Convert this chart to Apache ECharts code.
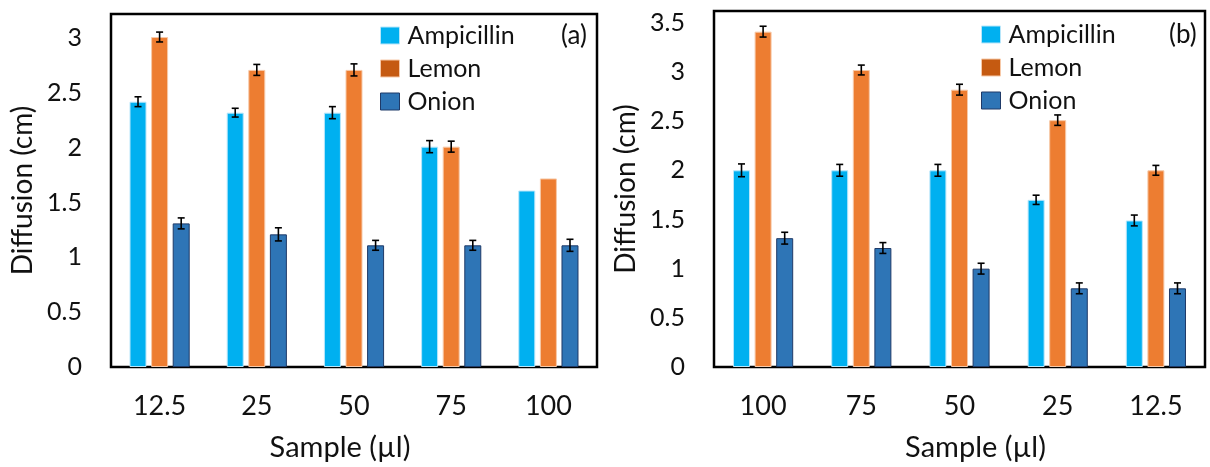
<!DOCTYPE html>
<html>
<head>
<meta charset="utf-8">
<script src="https://cdn.jsdelivr.net/npm/echarts@6/dist/echarts.min.js"></script>
<style>
  html, body { margin: 0; padding: 0; background: #fff; }
  #chart { width: 1210px; height: 467px; }
</style>
</head>
<body>
<div id="chart"></div>
<script>
// ---------- Data ----------
const seriesNames = ['Ampicillin', 'Lemon', 'Onion'];

// Panel (a)
const categoriesA = ['12.5', '25', '50', '75', '100'];
const ampicillinA = [2.42, 2.32, 2.32, 2.01, 1.61];
const lemonA      = [3.01, 2.71, 2.71, 2.01, 1.72];
const onionA      = [1.31, 1.21, 1.11, 1.11, 1.11];
const ampicillinErrA = [0.045, 0.04, 0.055, 0.055, null];
const lemonErrA      = [0.045, 0.05, 0.055, 0.05, null];
const onionErrA      = [0.05, 0.06, 0.045, 0.045, 0.055];

// Panel (b)
const categoriesB = ['100', '75', '50', '25', '12.5'];
const ampicillinB = [2.0, 2.0, 2.0, 1.70, 1.49];
const lemonB      = [3.41, 3.02, 2.82, 2.51, 2.0];
const onionB      = [1.31, 1.21, 1.0, 0.80, 0.80];
const ampicillinErrB = [0.065, 0.06, 0.06, 0.047, 0.055];
const lemonErrB      = [0.055, 0.05, 0.055, 0.053, 0.05];
const onionErrB      = [0.06, 0.055, 0.055, 0.055, 0.055];

// ---------- Styling ----------
const FONT = 'Lato';
const TXT = '#111';
const BAR_W = 17;
const BAR_GAP = 0.27;
const colors = ['#00B0F0', '#ED7D31', '#2E75B6'];
const borders = ['#B8E6FA', '#F7C9A8', '#1F3A68'];
const legendColors = ['#00B0F0', '#C55A11', '#2E75B6'];

function barSeries(name, k, data, axisIdx) {
  return {
    name: name,
    type: 'bar',
    xAxisIndex: axisIdx,
    yAxisIndex: axisIdx,
    data: data,
    barWidth: BAR_W,
    barGap: (BAR_GAP * 100) + '%',
    itemStyle: { color: colors[k], borderColor: borders[k], borderWidth: 1 },
    emphasis: { disabled: true },
    z: 2
  };
}

function errSeries(k, values, errs, axisIdx) {
  const data = [];
  values.forEach((v, i) => { if (errs[i] != null) data.push([i, v, errs[i]]); });
  const offset = (k - 1) * BAR_W * (1 + BAR_GAP);
  return {
    type: 'custom',
    name: 'err' + k + '_' + axisIdx,
    xAxisIndex: axisIdx,
    yAxisIndex: axisIdx,
    data: data,
    z: 5,
    silent: true,
    renderItem: function (params, api) {
      const i = api.value(0), v = api.value(1), e = api.value(2);
      const hi = api.coord([i, v + e]);
      const lo = api.coord([i, v - e]);
      const x = hi[0] + offset;
      const cap = 3.5;
      const st = { stroke: '#000', lineWidth: 1.6 };
      return {
        type: 'group',
        children: [
          { type: 'line', shape: { x1: x, y1: hi[1], x2: x, y2: lo[1] }, style: st },
          { type: 'line', shape: { x1: x - cap, y1: hi[1], x2: x + cap, y2: hi[1] }, style: st },
          { type: 'line', shape: { x1: x - cap, y1: lo[1], x2: x + cap, y2: lo[1] }, style: st }
        ]
      };
    }
  };
}

function xAxis(cats, gridIndex) {
  return {
    type: 'category',
    gridIndex: gridIndex,
    data: cats,
    axisLine: { show: false },
    axisTick: { show: false },
    axisLabel: { margin: 26, fontSize: 27, color: TXT, fontFamily: FONT },
    name: 'Sample (µl)',
    nameLocation: 'middle',
    nameGap: 66,
    nameTextStyle: { fontSize: 29, color: TXT, fontFamily: FONT,
                     padding: gridIndex === 0 ? [0, 28, 0, 0] : [0, 0, 0, 32] }
  };
}

function yAxis(max, gridIndex) {
  return {
    type: 'value',
    gridIndex: gridIndex,
    min: 0,
    max: max,
    interval: 0.5,
    splitLine: { show: false },
    axisLine: { show: false },
    axisTick: { show: false },
    axisLabel: { margin: 29, fontSize: 25, color: TXT, fontFamily: FONT, showMaxLabel: false },
    name: 'Diffusion (cm)',
    nameLocation: 'middle',
    nameGap: 74,
    nameTextStyle: { fontSize: 28, color: TXT, fontFamily: FONT }
  };
}

function legend(left, top) {
  return {
    orient: 'vertical',
    left: left,
    top: top,
    icon: 'rect',
    itemWidth: 19,
    itemHeight: 17,
    itemGap: 6,
    selectedMode: false,
    textStyle: { fontSize: 25, lineHeight: 27, color: TXT, fontFamily: FONT, padding: [0, 0, 0, 3] },
    data: seriesNames.map((n, k) => ({
      name: n,
      itemStyle: { color: legendColors[k], borderColor: borders[k], borderWidth: 1 }
    }))
  };
}

const chart = echarts.init(document.getElementById('chart'), null, { renderer: 'canvas' });

const option = {
  animation: false,
  backgroundColor: '#fff',
  title: [
    { text: '(a)', left: 556, top: 18, textStyle: { fontSize: 26, fontWeight: 'normal', color: TXT, fontFamily: FONT } },
    { text: '(b)', left: 1164, top: 17, textStyle: { fontSize: 26, fontWeight: 'normal', color: TXT, fontFamily: FONT } }
  ],
  legend: [legend(375, 17), legend(976, 16)],
  grid: [
    { left: 111, top: 14, width: 486, height: 358, show: true, borderColor: '#000', borderWidth: 2.5, containLabel: false },
    { left: 714, top: 11, width: 491, height: 359, show: true, borderColor: '#000', borderWidth: 2.5, containLabel: false }
  ],
  xAxis: [xAxis(categoriesA, 0), xAxis(categoriesB, 1)],
  yAxis: [yAxis(3.22, 0), yAxis(3.62, 1)],
  series: [
    barSeries('Ampicillin', 0, ampicillinA, 0),
    barSeries('Lemon', 1, lemonA, 0),
    barSeries('Onion', 2, onionA, 0),
    barSeries('Ampicillin', 0, ampicillinB, 1),
    barSeries('Lemon', 1, lemonB, 1),
    barSeries('Onion', 2, onionB, 1),
    errSeries(0, ampicillinA, ampicillinErrA, 0),
    errSeries(1, lemonA, lemonErrA, 0),
    errSeries(2, onionA, onionErrA, 0),
    errSeries(0, ampicillinB, ampicillinErrB, 1),
    errSeries(1, lemonB, lemonErrB, 1),
    errSeries(2, onionB, onionErrB, 1)
  ]
};
chart.setOption(option);
</script>
</body>
</html>
